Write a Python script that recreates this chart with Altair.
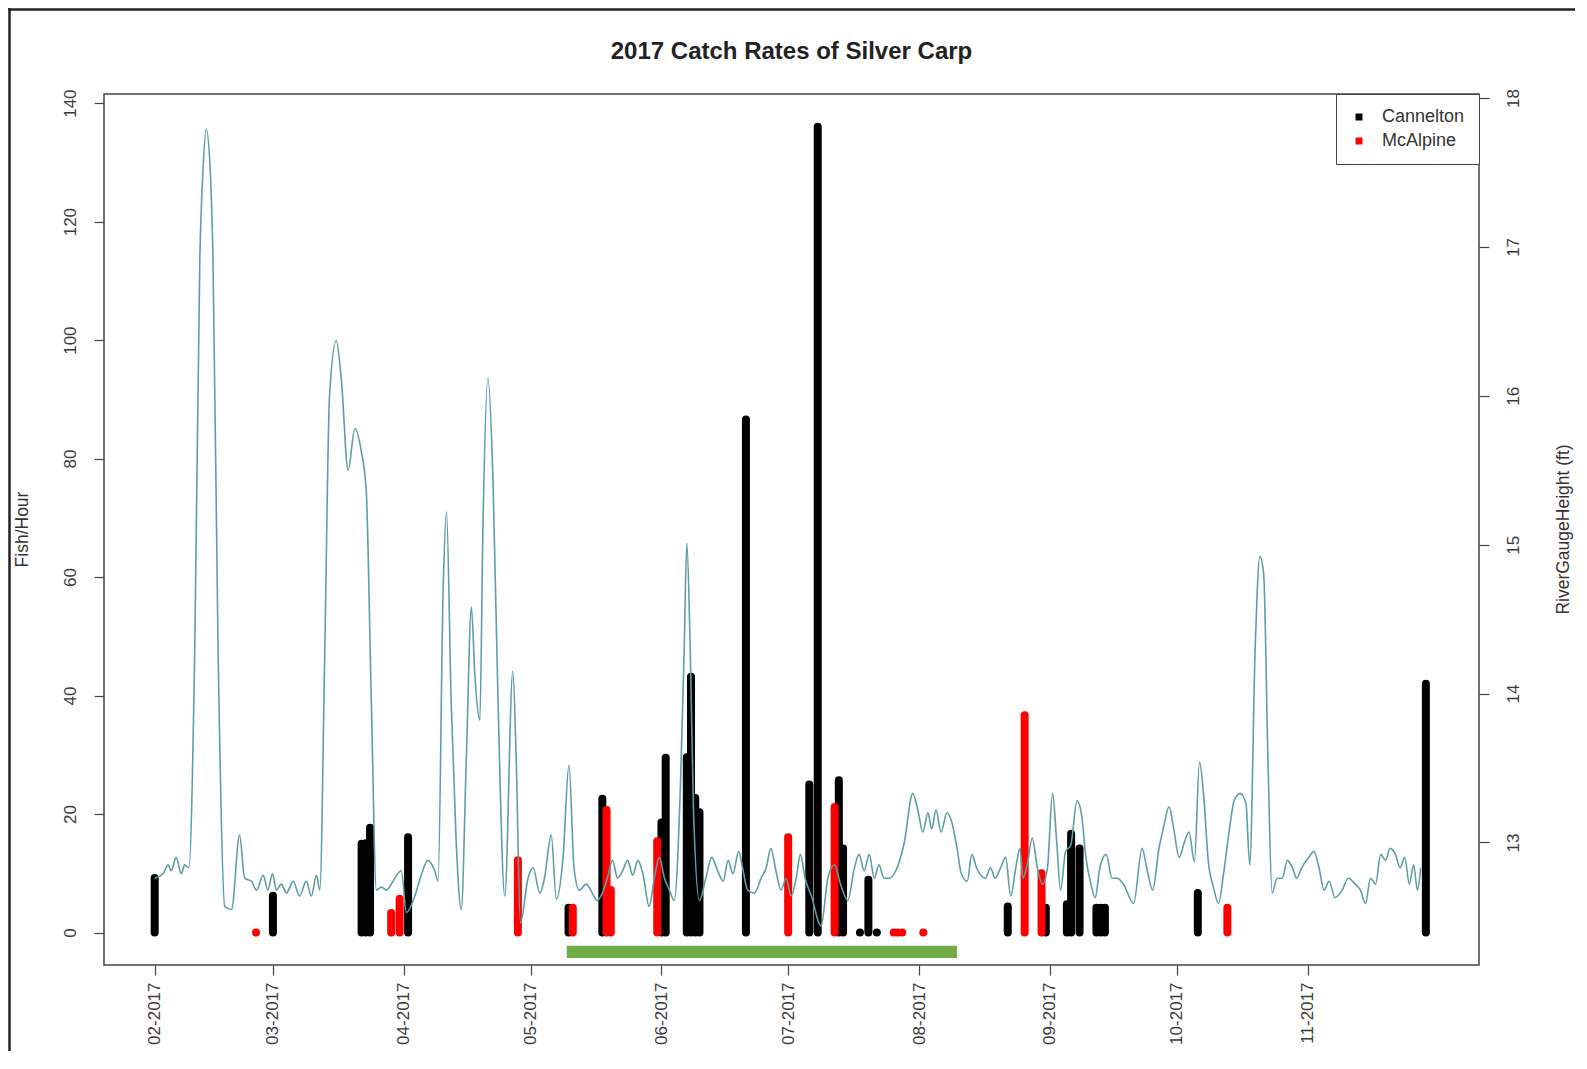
import altair as alt
import pandas as pd

# ---------------- data ----------------
title_text = "2017 Catch Rates of Silver Carp"

cannelton_dates = ["2017-02-01", "2017-03-01", "2017-03-22", "2017-03-23", "2017-03-24",
                   "2017-04-02", "2017-05-10", "2017-05-18", "2017-06-01", "2017-06-02",
                   "2017-06-07", "2017-06-08", "2017-06-09", "2017-06-10", "2017-06-21",
                   "2017-07-06", "2017-07-08", "2017-07-13", "2017-07-14", "2017-07-18",
                   "2017-07-20", "2017-07-22", "2017-08-22", "2017-08-31", "2017-09-05",
                   "2017-09-06", "2017-09-08", "2017-09-12", "2017-09-13", "2017-09-14",
                   "2017-10-06", "2017-11-29"]
cannelton_rate = [9.2, 6.2, 15.0, 15.1, 17.7,
                  16.1, 4.2, 22.6, 18.6, 29.5,
                  29.6, 43.2, 22.7, 20.3, 86.6,
                  25.0, 136.0, 25.7, 14.2, 0.0,
                  8.9, 0.0, 4.4, 4.2, 4.8,
                  16.7, 14.2, 4.2, 4.2, 4.2,
                  6.7, 42.0]

mcalpine_dates = ["2017-02-25", "2017-03-29", "2017-03-31", "2017-04-28", "2017-05-11",
                  "2017-05-19", "2017-05-20", "2017-05-31", "2017-07-01", "2017-07-12",
                  "2017-07-26", "2017-07-27", "2017-07-28", "2017-08-02", "2017-08-26",
                  "2017-08-30", "2017-10-13"]
mcalpine_rate = [0.0, 3.3, 5.7, 12.2, 4.2,
                 20.7, 7.2, 15.4, 16.1, 21.2,
                 0.0, 0.0, 0.0, 0.0, 36.7,
                 10.0, 4.2]

# river gauge height (ft); days counted from 2017-02-01
gauge_day = [0, 2.0, 3.2, 3.9, 5.1, 6.3, 7.1, 8.1, 9.5, 10.7, 11.4, 12.2, 13.2, 13.8, 15.0,
             16.6, 18.2, 20.1, 21.3, 22.9, 24.1, 25.7, 26.8, 27.9, 28.8, 30.0, 31.2, 32.8,
             34.3, 35.9, 37.1, 38.3, 39.1, 40.3, 41.4, 43.0, 44.2, 45.8, 47.4, 48.9, 50.1,
             51.3, 52.5, 53.7, 54.9, 56.0, 58.4, 59.6, 61.6, 63.1, 64.7, 66.3, 67.1, 68.3,
             69.1, 70.2, 71.4, 72.6, 73.8, 75.0, 75.8, 77.0, 77.7, 78.9, 80.1, 81.3, 82.9,
             84.8, 85.6, 86.6, 88.4, 89.6, 91.2, 92.3, 93.9, 95.1, 96.7, 98.1, 99.3, 100.5,
             102.2, 103.6, 104.8, 106.0, 107.2, 108.4, 109.6, 110.8, 112.0, 113.2, 114.4,
             115.6, 117.1, 118.3, 119.5, 120.7, 121.9, 123.0, 124.5, 125.4, 126.0, 126.8,
             127.6, 129.0, 130.5, 131.9, 133.3, 134.6, 135.8, 136.9, 138.3, 139.2, 140.4,
             142.0, 143.6, 144.8, 145.9, 147.1, 148.3, 149.5, 150.7, 151.9, 152.9, 154.0,
             155.5, 157.8, 159.4, 161.0, 162.4, 164.1, 165.7, 166.8, 168.0, 169.2, 170.4,
             171.5, 172.7, 173.9, 175.5, 177.5, 179.5, 180.7, 181.9, 183.1, 184.0, 185.0,
             186.2, 187.6, 188.8, 190.0, 191.0, 192.4, 193.5, 194.6, 196.7, 197.9, 199.0,
             200.3, 201.5, 202.7, 203.9, 204.9, 205.6, 206.6, 207.8, 209.0, 210.2, 211.4,
             212.6, 213.6, 214.5, 215.7, 216.9, 218.4, 219.5, 220.5, 221.7, 222.7, 223.8,
             225.3, 226.7, 227.9, 229.4, 231.8, 233.8, 234.9, 236.3, 237.8, 238.8, 240.2,
             241.3, 242.6, 243.8, 244.9, 246.2, 247.4, 248.4, 249.5, 250.7, 251.9, 253.1,
             254.3, 255.7, 257.1, 258.4, 259.3, 260.6, 261.7, 262.6, 263.6, 264.6, 265.8,
             267.0, 268.2, 269.4, 270.4, 271.6, 273.3, 274.5, 275.7, 276.9, 278.1, 279.5,
             281.2, 282.6, 284.3, 285.5, 286.7, 287.9, 289.1, 290.3, 291.5, 292.5, 293.8,
             294.9, 296.0, 297.1, 298.1, 299.0, 299.8]
gauge_ft = [12.76, 12.79, 12.85, 12.81, 12.90, 12.79, 12.85, 12.83, 14.32, 16.93, 17.49, 17.79, 17.49, 16.93, 14.32,
            12.57, 12.55, 13.05, 12.76, 12.74, 12.68, 12.78, 12.68, 12.79, 12.68, 12.72, 12.66, 12.74,
            12.64, 12.74, 12.64, 12.78, 12.68, 14.32, 16.00, 16.37, 16.11, 15.50, 15.78, 15.63, 15.36,
            13.95, 12.68, 12.70, 12.68, 12.72, 12.81, 12.53, 12.64, 12.78, 12.88, 12.81, 12.74, 14.69,
            15.22, 13.95, 13.00, 12.55, 13.57, 14.58, 14.13, 13.82, 15.07, 16.12, 15.44, 13.95, 12.64,
            14.15, 13.57, 12.46, 12.76, 12.83, 12.66, 12.76, 13.05, 12.62, 12.90, 13.52, 12.83, 12.68,
            12.72, 12.66, 12.61, 12.66, 12.76, 12.88, 12.76, 12.81, 12.88, 12.78, 12.88,
            12.79, 12.57, 12.76, 12.90, 12.76, 12.68, 12.61, 13.39, 14.32, 15.01, 14.32,
            13.20, 12.61, 12.76, 12.90, 12.81, 12.74, 12.88, 12.79, 12.94, 12.83, 12.68,
            12.66, 12.76, 12.83, 12.96, 12.81, 12.68, 12.76, 12.64, 12.76, 12.92, 12.76,
            12.64, 12.44, 12.76, 12.85, 12.72, 12.61, 12.83, 12.92, 12.81, 12.92, 12.76,
            12.85, 12.76, 12.76, 12.81, 13.00, 13.33, 13.22, 13.07, 13.20, 13.09, 13.22,
            13.07, 13.20, 13.13, 12.96, 12.79, 12.74, 12.92, 12.83, 12.76, 12.83, 12.76,
            12.83, 12.90, 12.64, 12.83, 12.96, 12.76, 12.85, 13.03, 12.83, 12.72, 12.83,
            13.33, 13.00, 12.68, 12.94, 12.98, 13.28, 13.18, 12.90, 12.72, 12.63, 12.83,
            12.92, 12.76, 12.76, 12.72, 12.59, 12.96, 12.83, 12.68, 12.96, 13.09, 13.24,
            13.09, 12.90, 13.00, 13.07, 12.87, 13.54, 13.31, 12.87, 12.70, 12.59, 12.79,
            13.05, 13.29, 13.33, 13.26, 12.85, 14.32, 14.92, 14.80, 13.57, 12.66, 12.76,
            12.76, 12.88, 12.83, 12.76, 12.83, 12.90, 12.94, 12.83, 12.68, 12.74, 12.63,
            12.68, 12.76, 12.72, 12.68, 12.59, 12.76, 12.72, 12.92, 12.88, 12.96, 12.92,
            12.83, 12.90, 12.72, 12.85, 12.68, 12.83]

season_start = "2017-05-09T14:00:00"
season_end = "2017-08-10T00:00:00"
season_band = [-2.2, -4.3]

month_ticks = ["2017-02-01", "2017-03-01", "2017-04-01", "2017-05-01", "2017-06-01",
               "2017-07-01", "2017-08-01", "2017-09-01", "2017-10-01", "2017-11-01"]
sites = ["Cannelton", "McAlpine"]
site_colors = ["#000000", "#ff0000"]

# ---------------- layout ----------------
DAY_MS = 86400000
W, H = 1375, 871
PAD = {"left": 96, "top": 86, "right": 96, "bottom": 86}


def ms(s):
    return int(pd.Timestamp(s, tz="UTC").value // 10**6)


base_ms = ms("2017-02-01")
bars_df = pd.DataFrame({
    "t": [ms(d) for d in cannelton_dates] + [ms(d) for d in mcalpine_dates],
    "rate": cannelton_rate + mcalpine_rate,
    "base": [0.0] * (len(cannelton_rate) + len(mcalpine_rate)),
    "site": ["Cannelton"] * len(cannelton_rate) + ["McAlpine"] * len(mcalpine_rate),
})
gauge_df = pd.DataFrame({"t": [base_ms + d * DAY_MS for d in gauge_day], "ft": gauge_ft})
season_df = pd.DataFrame({"start": [ms(season_start)], "end": [ms(season_end)],
                          "lo": [season_band[0]], "hi": [season_band[1]]})
one_row = pd.DataFrame({"k": [0]})
title_df = pd.DataFrame({"label": [title_text]})

FONT = "Liberation Sans"
x_scale = alt.Scale(type="utc", domain=[alt.DateTime(year=2017, month=1, date=20, utc=True),
                                        alt.DateTime(year=2017, month=12, date=11, hours=14, utc=True)])
x_axis = alt.Axis(values=[ms(m) for m in month_ticks], labelExpr="utcFormat(datum.value, '%m-%Y')",
                  labelAngle=-90, tickSize=10, labelPadding=7, title=None, grid=False,
                  domain=False, labelOverlap=False, labelFlush=False)
left_scale = alt.Scale(domain=[-5.47, 141.54], nice=False, zero=False)
left_axis = alt.Axis(values=[0, 20, 40, 60, 80, 100, 120, 140], title="Fish/Hour", grid=False,
                     domain=False, tickSize=10, labelAngle=-90, labelAlign="center",
                     labelBaseline="bottom", labelPadding=15, titleAngle=270, titleX=-82,
                     titleY=435, titleAlign="center", titleBaseline="middle")
right_scale = alt.Scale(domain=[12.177, 18.027], nice=False, zero=False)
right_axis = alt.Axis(values=[13, 14, 15, 16, 17, 18], orient="right", title="RiverGaugeHeight (ft)",
                      grid=False, domain=False, tickSize=10, labelAngle=-90, labelAlign="center",
                      labelBaseline="top", labelPadding=16, titleAngle=270, titleX=84, titleY=435,
                      titleAlign="center", titleBaseline="middle")

season = alt.Chart(season_df).mark_rect(color="#70AD47").encode(
    x=alt.X("start:T", scale=x_scale, axis=x_axis),
    x2="end:T",
    y=alt.Y("lo:Q", scale=left_scale, axis=left_axis),
    y2="hi:Q",
)

bars = alt.Chart(bars_df).mark_rule(strokeWidth=8, strokeCap="round").encode(
    x=alt.X("t:T", scale=x_scale, axis=x_axis),
    y=alt.Y("base:Q", scale=left_scale, axis=left_axis),
    y2="rate:Q",
    color=alt.Color("site:N", scale=alt.Scale(domain=sites, range=site_colors),
                    legend=alt.Legend(title=None, orient="top-right", offset=0, padding=14,
                                      rowPadding=6, labelFontSize=18, labelFont=FONT,
                                      labelColor="#333333", symbolType="square", symbolSize=12,
                                      symbolStrokeWidth=3.5, strokeColor="#444444",
                                      fillColor="white", labelOffset=14)),
)

# chart title, as a text mark centred over the plot
title = alt.Chart(title_df).mark_text(font=FONT, fontSize=24, fontWeight="bold", color="#222222",
                                      align="center", baseline="middle").encode(
    text="label:N", x=alt.value(W / 2), y=alt.value(-42))

# outer frame of the figure (top and left edges)
frame_top = alt.Chart(one_row).mark_rule(color="#222222", strokeWidth=2.5).encode(
    x=alt.value(-PAD["left"]), x2=alt.value(W + PAD["right"]), y=alt.value(-PAD["top"] + 1.5))
frame_left = alt.Chart(one_row).mark_rule(color="#222222", strokeWidth=2.5).encode(
    x=alt.value(-PAD["left"] + 1.5), y=alt.value(-PAD["top"]), y2=alt.value(H + PAD["bottom"]))

line = alt.Chart(gauge_df).mark_line(color="#5F9EA0", strokeWidth=1.6, interpolate="monotone").encode(
    x=alt.X("t:T", scale=x_scale, axis=x_axis),
    y=alt.Y("ft:Q", scale=right_scale, axis=right_axis),
)

chart = alt.layer(alt.layer(season, bars, frame_top, frame_left, title), line).resolve_scale(
    y="independent").properties(
    width=W, height=H,
    autosize=alt.AutoSizeParams(type="none"),
    padding=PAD,
).configure_view(stroke="#444444", strokeWidth=1.5).configure_axis(
    labelFont=FONT, labelFontSize=17, labelColor="#3a3a3a", tickColor="#444444",
    tickWidth=1.2, titleFont=FONT, titleFontSize=17.5, titleColor="#333333", titleFontWeight="normal",
)

chart.save("out.html", embed_options={"renderer": "svg", "actions": False})
